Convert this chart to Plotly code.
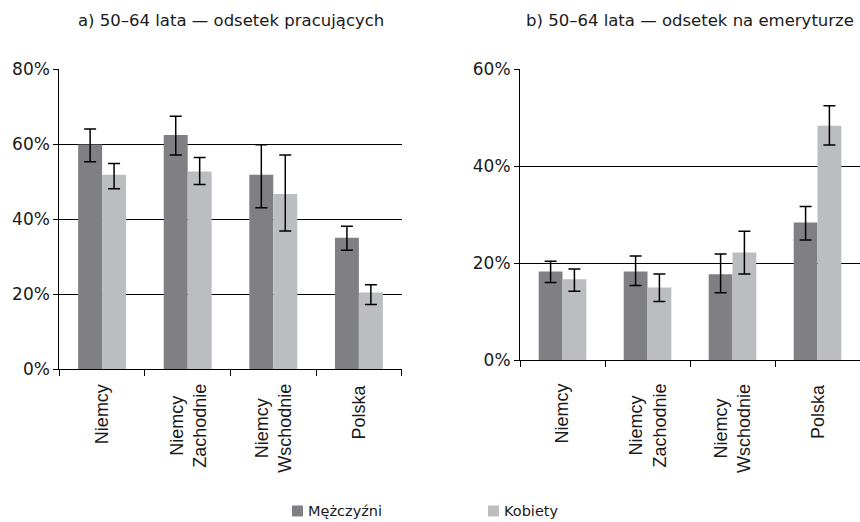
import plotly.graph_objects as go

# Categories shown on both panels
categories = ["Niemcy", "Niemcy Zachodnie", "Niemcy Wschodnie", "Polska"]
category_labels = ["Niemcy", "Niemcy<br>Zachodnie", "Niemcy<br>Wschodnie", "Polska"]

# a) share employed, age 50–64
employed_men = [0.600, 0.625, 0.519, 0.351]
employed_men_hi = [0.641, 0.675, 0.599, 0.382]
employed_men_lo = [0.554, 0.572, 0.431, 0.318]
employed_women = [0.519, 0.528, 0.468, 0.205]
employed_women_hi = [0.549, 0.565, 0.572, 0.226]
employed_women_lo = [0.482, 0.493, 0.369, 0.173]

# b) share retired, age 50–64
retired_men = [0.183, 0.183, 0.177, 0.284]
retired_men_hi = [0.204, 0.215, 0.219, 0.317]
retired_men_lo = [0.160, 0.154, 0.139, 0.248]
retired_women = [0.167, 0.150, 0.222, 0.484]
retired_women_hi = [0.188, 0.178, 0.266, 0.525]
retired_women_lo = [0.142, 0.121, 0.178, 0.444]

series_names = ["Mężczyźni", "Kobiety"]
series_colors = ["#808084", "#bcbdc0"]

W, H = 860, 522
TXT = "#1a1a1a"
FONT_MAIN = "DejaVu Sans"
FONT_CAT = "Liberation Sans, Arial, sans-serif"


def err(vals, hi, lo):
    return dict(type="data", symmetric=False,
                array=[h - v for v, h in zip(vals, hi)],
                arrayminus=[v - l for v, l in zip(vals, lo)],
                color="#000000", thickness=1.5, width=6)


fig = go.Figure()

panels = [
    ("x", "y", [(employed_men, employed_men_hi, employed_men_lo),
                (employed_women, employed_women_hi, employed_women_lo)]),
    ("x2", "y2", [(retired_men, retired_men_hi, retired_men_lo),
                  (retired_women, retired_women_hi, retired_women_lo)]),
]
for xa, ya, series in panels:
    for (vals, hi, lo), name, color in zip(series, series_names, series_colors):
        fig.add_trace(go.Bar(
            x=categories, y=vals, name=name, xaxis=xa, yaxis=ya,
            marker=dict(color=color, line=dict(width=0)),
            error_y=err(vals, hi, lo), showlegend=False,
        ))


def px_x(p):
    return p / W


def px_y(p):
    # page rows -> paper fraction (the page is shown slightly compressed vertically)
    q = (p - 8.3) / 0.966
    return 1 - q / H


common_x = dict(type="category", range=[-0.5, 3.5], tickson="boundaries",
                ticks="outside", ticklen=6, tickcolor="#000", tickwidth=1,
                showticklabels=False, showline=True, linecolor="#000",
                linewidth=1, showgrid=False, zeroline=False)
common_y = dict(tickformat=".0%", ticks="outside", ticklen=5, tickcolor="#000",
                showline=True, linecolor="#000", linewidth=1,
                showgrid=True, gridcolor="#000", gridwidth=1, zeroline=False,
                tickfont=dict(family=FONT_MAIN, size=17, color=TXT))

fig.update_layout(
    width=W, height=H,
    margin=dict(l=0, r=0, t=0, b=0),
    paper_bgcolor="white", plot_bgcolor="white",
    barmode="group", bargap=0.44, bargroupgap=0,
    xaxis=dict(domain=[px_x(59.3), px_x(401.7)], anchor="y", **common_x),
    yaxis=dict(domain=[px_y(369.3), px_y(68)], anchor="x", range=[0, 0.8],
               tickvals=[0, 0.2, 0.4, 0.6, 0.8], **common_y),
    xaxis2=dict(domain=[px_x(520), 1.0], anchor="y2", **common_x),
    yaxis2=dict(domain=[px_y(360), px_y(68)], anchor="x2", range=[0, 0.6],
                tickvals=[0, 0.2, 0.4, 0.6], **common_y),
)

# Panel titles
titles = [("a) 50–64 lata — odsetek pracujących", "x domain"),
          ("b) 50–64 lata — odsetek na emeryturze", "x2 domain")]
for text, xref in titles:
    fig.add_annotation(text=text, xref=xref, yref="paper", x=0.5, y=px_y(19),
                       xanchor="center", yanchor="middle", showarrow=False,
                       font=dict(family=FONT_MAIN, size=16.5, color=TXT))

# Rotated category labels under each panel
for xref in ("x", "x2"):
    for cat, lab in zip(categories, category_labels):
        fig.add_annotation(text=lab, x=cat, xref=xref, yref="paper",
                           y=px_y(382), yanchor="top", xanchor="center",
                           textangle=-90, align="center", showarrow=False,
                           font=dict(family=FONT_CAT, size=18, color=TXT))

# Legend drawn as swatches with labels
legend_pos = [292, 488]
for name, color, x0 in zip(series_names, series_colors, legend_pos):
    fig.add_shape(type="rect", xref="paper", yref="paper",
                  x0=px_x(x0), x1=px_x(x0 + 11), y0=px_y(506), y1=px_y(517),
                  fillcolor=color, line=dict(width=0))
    fig.add_annotation(text=name, xref="paper", yref="paper",
                       x=px_x(x0 + 14), y=px_y(511.5), xanchor="left",
                       yanchor="middle", showarrow=False,
                       font=dict(family=FONT_MAIN, size=14.5, color=TXT))

fig.write_html("out.html")
